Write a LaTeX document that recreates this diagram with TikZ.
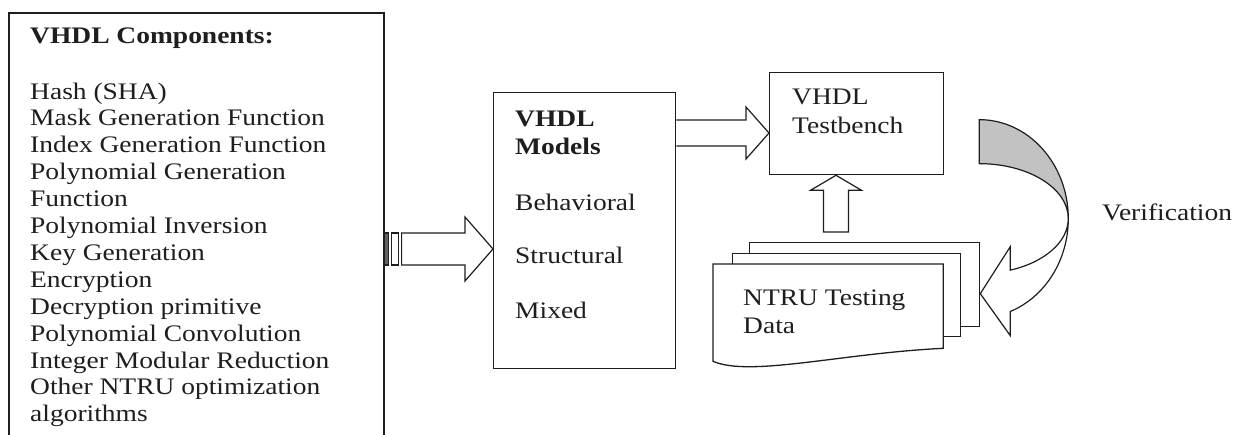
\documentclass[tikz,border=0pt]{standalone}
\usepackage{fontspec}
\setmainfont{Liberation Serif}[FakeStretch=1.16]
\usetikzlibrary{calc}
\definecolor{ink}{HTML}{1E1E1E}
\definecolor{shade}{HTML}{C2C2C2}
\tikzset{
  box/.style={draw=ink, line width=1.3pt, fill=white, inner sep=0pt, rectangle, anchor=north west},
  txt/.style={anchor=base west, inner sep=0pt, text=ink, font=\fontsize{23.7}{27}\selectfont},
  btxt/.style={txt, font=\fontsize{23.7}{27}\selectfont\bfseries},
  blockarrow/.style={draw=ink, line width=1.2pt, fill=white, line join=miter},
}
\begin{document}
\begin{tikzpicture}[x=1pt, y=-1pt]
  \clip (0,0) rectangle (1240,434);
  \fill[white] (0,0) rectangle (1240,434);

  % list of components (box runs past the lower edge)
  \node[box, line width=1.6pt, minimum width=375pt, minimum height=440pt] (comp) at (8,12) {};
  \node[btxt] (comptitle) at (30,43) {VHDL Components:};
  \foreach \t [count=\i from 0] in {{Hash (SHA)}, {Mask Generation Function},
      {Index Generation Function}, {Polynomial Generation}, {Function},
      {Polynomial Inversion}, {Key Generation}, {Encryption},
      {Decryption primitive}, {Polynomial Convolution},
      {Integer Modular Reduction}, {Other NTRU optimization}, {algorithms}}
    \node[txt] (c\i) at (30, 99+26.9*\i) {\t};

  % models
  \node[box, minimum width=182pt, minimum height=276pt] (models) at (493,92) {};
  \node[btxt] (m1) at (515,126) {VHDL};
  \node[btxt] (m2) at (515,154) {Models};
  \node[txt] (m3) at (515,210) {Behavioral};
  \node[txt] (m4) at (515,263) {Structural};
  \node[txt] (m5) at (515,318) {Mixed};

  % testbench
  \node[box, minimum width=174pt, minimum height=102pt] (bench) at (769,72) {};
  \node[txt] (b1) at (792,104) {VHDL};
  \node[txt] (b2) at (792,133) {Testbench};

  % stack of test data sheets
  \node[box, minimum width=230pt, minimum height=84pt] (data3) at (749,242) {};
  \node[box, minimum width=228pt, minimum height=83pt] (data2) at (732,253) {};
  \node[box, draw=none, fill=none, minimum width=229pt, minimum height=83pt] (data) at (713,264) {};
  \draw[ink, line width=1.3pt, fill=white]
    ($(data.south west)+(0,13)$) -- (data.north west) -- (data.north east) -- (data.south east)
    .. controls ($(data.south east)+(-102,5)$) and ($(data.south west)+(37,29)$) ..
    ($(data.south west)+(0,13)$) -- cycle;
  \node[txt] (d1) at (743,305) {NTRU Testing};
  \node[txt] (d2) at (743,333) {Data};

  % verification label
  \node[txt] (verif) at (1102,220) {Verification};

  % striped block arrow: components -> models
  \coordinate (r1) at (0,249);
  \coordinate (a1s) at (comp.east |- r1);
  \coordinate (a1e) at (models.west |- r1);
  \draw[blockarrow, fill=ink!70] ($(a1s)+(0,-16)$) rectangle ($(a1s)+(4,16)$);
  \draw[blockarrow] ($(a1s)+(7,-16)$) rectangle ($(a1s)+(14,16)$);
  \draw[blockarrow] ($(a1s)+(17,-16)$) -- ($(a1e)+(-28,-16)$) -- ($(a1e)+(-28,-32)$)
    -- (a1e) -- ($(a1e)+(-28,32)$) -- ($(a1e)+(-28,16)$) -- ($(a1s)+(17,16)$) -- cycle;

  % block arrow: models -> testbench
  \coordinate (r2) at (0,133);
  \coordinate (a2s) at (models.east |- r2);
  \coordinate (a2e) at (bench.west |- r2);
  \draw[blockarrow] ($(a2s)+(0,-13)$) -- ($(a2e)+(-23,-13)$) -- ($(a2e)+(-23,-26)$)
    -- (a2e) -- ($(a2e)+(-23,26)$) -- ($(a2e)+(-23,13)$) -- ($(a2s)+(0,13)$);

  % block arrow: test data -> testbench
  \coordinate (r3) at (836,0);
  \coordinate (a3e) at (r3 |- bench.south);
  \coordinate (a3s) at ($(r3 |- data3.north)+(0,-10)$);
  \draw[blockarrow] ($(a3s)+(-12.5,0)$) -- ($(a3e)+(-12.5,15)$) -- ($(a3e)+(-25.5,15)$)
    -- (a3e) -- ($(a3e)+(25.5,15)$) -- ($(a3e)+(12.5,15)$) -- ($(a3s)+(12.5,0)$) -- cycle;

  % curved verification arrow back to the test data
  \coordinate (vc) at ($(data3.east)+(-1,-66)$);
  \draw[ink, line width=1.2pt, fill=shade]
    ($(vc)+(0,-99)$) arc[start angle=-90, end angle=0, x radius=89, y radius=99]
    arc[start angle=0, end angle=-90, x radius=89, y radius=55] -- cycle;
  \draw[blockarrow]
    ($(vc)+(89,0)$) arc[start angle=0, end angle=69.6, x radius=89, y radius=99]
    -- ($(vc)+(31,117)$) -- ($(vc)+(1,75)$) -- ($(vc)+(31,28)$) -- ($(vc)+(31,51.5)$)
    arc[start angle=69.6, end angle=0, x radius=89, y radius=55] -- cycle;
\end{tikzpicture}
\end{document}
